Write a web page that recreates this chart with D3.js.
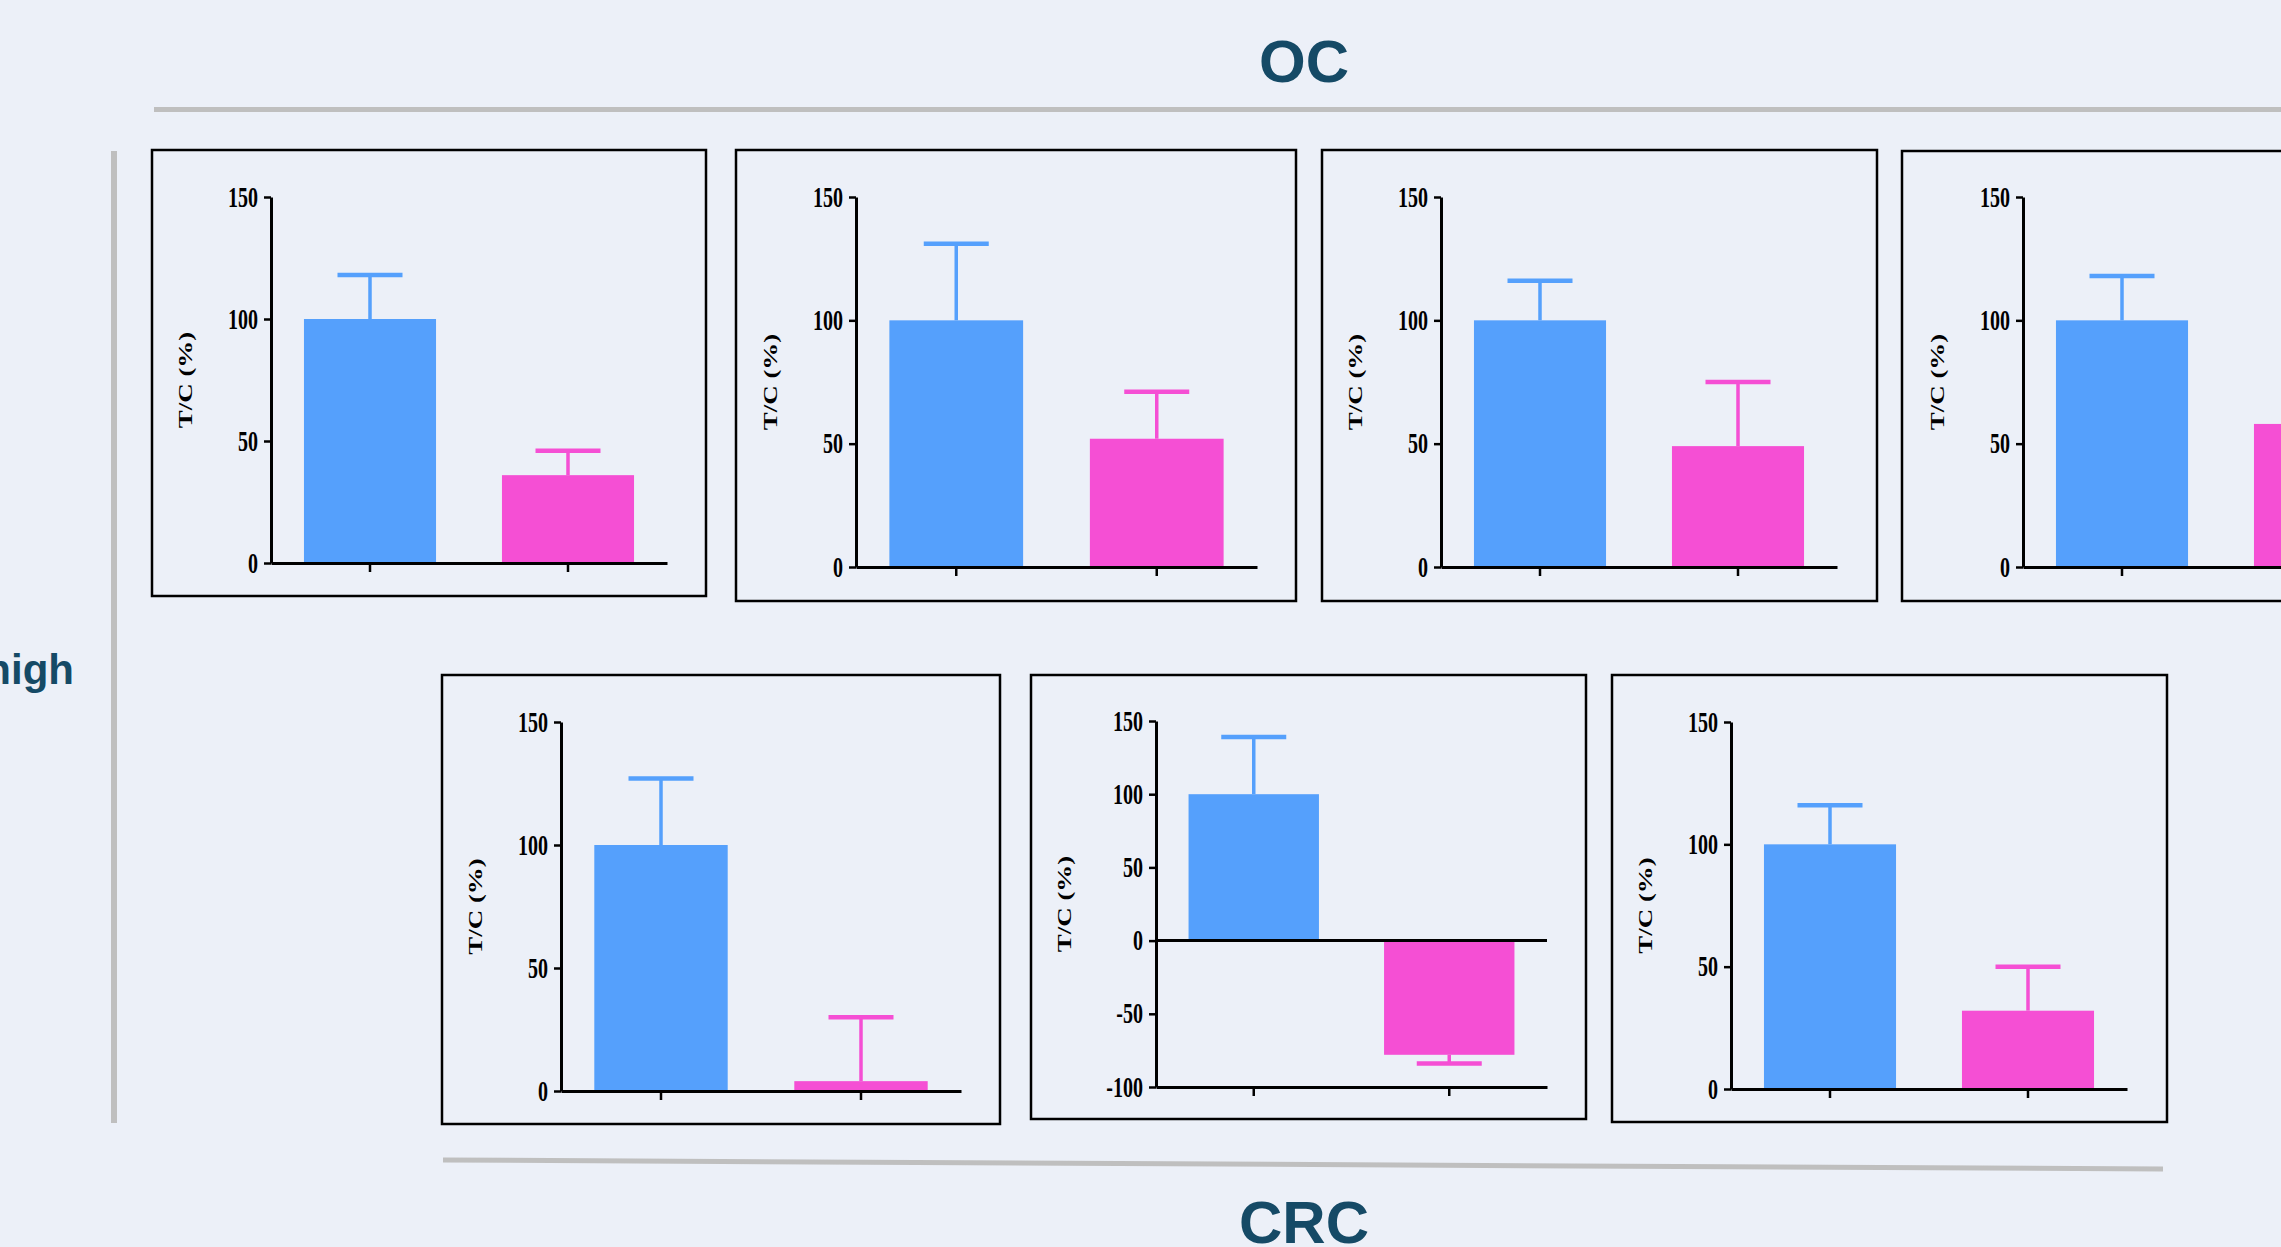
<!DOCTYPE html>
<html>
<head>
<meta charset="utf-8">
<script src="https://cdn.jsdelivr.net/npm/d3@7"></script>
<style>
  body { margin: 0; background: #ecf0f8; }
  svg { display: block; }
</style>
</head>
<body>
<svg id="chart"></svg>
<script>
// data
const categories = ["Control", "Treated"];
const controlMean = [100, 100, 100, 100, 100, 100, 100];
const controlSD = [18, 31, 16, 18, 27, 39, 16];
const treatMean = [36, 52, 49, 58, 4, -78, 32];
const treatSD = [10, 19, 26, 17, 26, 6, 18];
const yMin = [0, 0, 0, 0, 0, -100, 0];
const yMax = [150, 150, 150, 150, 150, 150, 150];
const tickStep = 50;
const yLabel = "T/C (%)";
const topTitle = "OC";
const bottomTitle = "CRC";
const rowLabel = "high";

// panel frames (box + plot area), in page pixels
const layout = [
  {bx: 152, by: 150, bw: 554, bh: 446, ax: 271, ay: 197, aw: 396, ah: 366, lab: 86},
  {bx: 736, by: 150, bw: 560, bh: 451, ax: 856, ay: 197, aw: 401, ah: 370, lab: 86},
  {bx: 1322, by: 150, bw: 555, bh: 451, ax: 1441, ay: 197, aw: 396, ah: 370, lab: 86},
  {bx: 1902, by: 151, bw: 555, bh: 450, ax: 2023, ay: 197, aw: 396, ah: 370, lab: 86},
  {bx: 442, by: 675, bw: 558, bh: 449, ax: 561, ay: 722, aw: 400, ah: 369, lab: 86},
  {bx: 1031, by: 675, bw: 555, bh: 444, ax: 1156, ay: 721, aw: 391, ah: 366, lab: 92},
  {bx: 1612, by: 675, bw: 555, bh: 447, ax: 1731, ay: 722, aw: 396, ah: 367, lab: 86}
];

const width = 2281;
const height = 1247;
const colors = ["#55a0fc", "#f54fd4"];
const titleColor = "#154a66";
const stretch = 1.42;

const svg = d3.select("#chart")
  .attr("width", width)
  .attr("height", height)
  .style("background", "#ecf0f8");

// separator lines
svg.append("line")
   .attr("x1", 154).attr("y1", 109.5).attr("x2", width).attr("y2", 109.5)
   .attr("stroke", "#bfbfbf").attr("stroke-width", 5);
svg.append("line")
   .attr("x1", 114).attr("y1", 151).attr("x2", 114).attr("y2", 1123)
   .attr("stroke", "#bfbfbf").attr("stroke-width", 6);
svg.append("line")
   .attr("x1", 443).attr("y1", 1160).attr("x2", 2163).attr("y2", 1169)
   .attr("stroke", "#bfbfbf").attr("stroke-width", 5);

const titleStyle = (sel) => sel
  .attr("font-family", "'Liberation Sans', Arial, sans-serif")
  .attr("font-weight", "bold")
  .attr("fill", titleColor);

svg.append("text").call(titleStyle)
   .attr("x", 1304).attr("y", 82)
   .attr("text-anchor", "middle").attr("font-size", 60)
   .text(topTitle);
svg.append("text").call(titleStyle)
   .attr("x", 1304).attr("y", 1243)
   .attr("text-anchor", "middle").attr("font-size", 60)
   .text(bottomTitle);
svg.append("text").call(titleStyle)
   .attr("x", 74).attr("y", 684)
   .attr("text-anchor", "end").attr("font-size", 42)
   .text(rowLabel);

const fmt = (d) => d < 0 ? "-" + Math.abs(d) : String(d);

const drawPanel = (i) => {
  const L = layout[i];
  const g = svg.append("g");

  g.append("rect")
   .attr("x", L.bx).attr("y", L.by)
   .attr("width", L.bw).attr("height", L.bh)
   .attr("fill", "none").attr("stroke", "#000").attr("stroke-width", 2.5);

  const yScale = d3.scaleLinear()
    .domain([yMin[i], yMax[i]])
    .range([L.ay + L.ah, L.ay]);
  const xScale = d3.scaleBand()
    .domain(categories)
    .range([L.ax, L.ax + L.aw])
    .padding(0);

  const barW = xScale.bandwidth() * 0.667;
  const capW = 65;
  const rows = [
    {cat: categories[0], v: controlMean[i], sd: controlSD[i], c: colors[0]},
    {cat: categories[1], v: treatMean[i], sd: treatSD[i], c: colors[1]}
  ];

  // bars
  g.selectAll(".bar")
   .data(rows)
   .enter()
   .append("rect")
   .attr("class", "bar")
   .attr("x", (d) => xScale(d.cat) + (xScale.bandwidth() - barW) / 2)
   .attr("y", (d) => yScale(Math.max(0, d.v)))
   .attr("width", barW)
   .attr("height", (d) => Math.abs(yScale(d.v) - yScale(0)))
   .attr("fill", (d) => d.c);

  // error bars, drawn away from zero
  const tip = (d) => d.v >= 0 ? d.v + d.sd : d.v - d.sd;
  const cx = (d) => xScale(d.cat) + xScale.bandwidth() / 2;
  g.selectAll(".stem")
   .data(rows)
   .enter()
   .append("line")
   .attr("x1", cx).attr("x2", cx)
   .attr("y1", (d) => yScale(d.v))
   .attr("y2", (d) => yScale(tip(d)))
   .attr("stroke", (d) => d.c).attr("stroke-width", 3.5);
  g.selectAll(".cap")
   .data(rows)
   .enter()
   .append("line")
   .attr("x1", (d) => cx(d) - capW / 2).attr("x2", (d) => cx(d) + capW / 2)
   .attr("y1", (d) => yScale(tip(d)))
   .attr("y2", (d) => yScale(tip(d)))
   .attr("stroke", (d) => d.c).attr("stroke-width", 4.5);

  // zero line when the axis goes negative
  if (yMin[i] < 0) {
    g.append("line")
     .attr("x1", L.ax).attr("x2", L.ax + L.aw)
     .attr("y1", yScale(0)).attr("y2", yScale(0))
     .attr("stroke", "#000").attr("stroke-width", 3);
  }

  const ticks = d3.range(yMin[i], yMax[i] + 1, tickStep);
  const yAxis = d3.axisLeft(yScale)
    .tickValues(ticks)
    .tickFormat(fmt)
    .tickSize(7)
    .tickSizeOuter(0)
    .tickPadding(6);
  const xAxis = d3.axisBottom(xScale)
    .tickSize(9)
    .tickSizeOuter(0)
    .tickFormat("");

  const xa = g.append("g")
    .attr("transform", "translate(0," + (L.ay + L.ah) + ")")
    .call(xAxis);
  const ya = g.append("g")
    .attr("transform", "translate(" + L.ax + ",0)")
    .call(yAxis);

  [xa, ya].forEach((a) => {
    a.select(".domain").attr("stroke", "#000").attr("stroke-width", 3);
    a.selectAll(".tick line").attr("stroke", "#000").attr("stroke-width", 2.5);
  });
  ya.selectAll(".tick text")
    .attr("fill", "#000")
    .attr("font-family", "'Liberation Serif', 'Times New Roman', serif")
    .attr("font-weight", "bold")
    .attr("font-size", 20)
    .attr("transform", "scale(1," + stretch + ")");

  g.append("text")
   .attr("transform", "translate(" + (L.ax - L.lab) + "," + (L.ay + L.ah / 2) + ") scale(1," + stretch + ") rotate(-90)")
   .attr("text-anchor", "middle")
   .attr("dy", "0.35em")
   .attr("font-family", "'Liberation Serif', 'Times New Roman', serif")
   .attr("font-weight", "bold")
   .attr("font-size", 19)
   .text(yLabel);
};

layout.forEach((_, i) => drawPanel(i));
</script>
</body>
</html>
